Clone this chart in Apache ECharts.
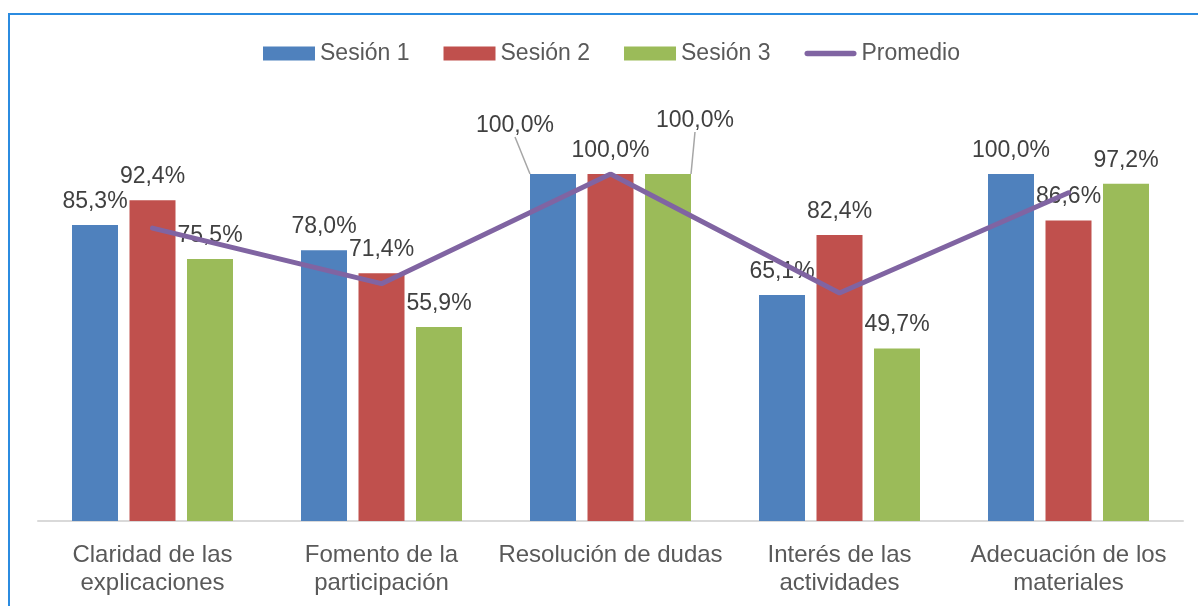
<!DOCTYPE html>
<html>
<head>
<meta charset="utf-8">
<script src="https://cdn.jsdelivr.net/npm/echarts@6/dist/echarts.min.js"></script>
<style>
  html, body { margin: 0; padding: 0; background: #fff; }
  #chart { width: 1198px; height: 606px; }
</style>
</head>
<body>
<div id="chart"></div>
<script>
// datos
const categorias = [
  "Claridad de las\nexplicaciones",
  "Fomento de la\nparticipación",
  "Resolución de dudas",
  "Interés de las\nactividades",
  "Adecuación de los\nmateriales"
];
const sesion1 = [85.3, 78.0, 100.0, 65.1, 100.0];
const sesion2 = [92.4, 71.4, 100.0, 82.4, 86.6];
const sesion3 = [75.5, 55.9, 100.0, 49.7, 97.2];
const promedio = [84.4, 68.4, 100.0, 65.7, 94.6];

const fuente = "Liberation Sans, Arial, sans-serif";
const fmt = (p) => p.value.toFixed(1).replace(".", ",") + "%";

const etiqueta = {
  show: true,
  position: "top",
  distance: 12,
  color: "#404040",
  fontSize: 23,
  fontFamily: fuente,
  formatter: fmt
};

// en "Resolución de dudas" las etiquetas se apartan con una línea guía
const conGuia = (arr) =>
  arr.map((v, i) =>
    i === 2
      ? { value: v, labelLine: { show: true, lineStyle: { color: "#a6a6a6", width: 1.5 } } }
      : v
  );
const mover = (dx, dy) => (params) =>
  params.dataIndex === 2 ? { dx: dx, dy: dy } : {};

// icono de línea con extremos redondeados para "Promedio"
const iconoLinea = "path://M3,0 L53,0 A3,3 0 0 1 53,6 L3,6 A3,3 0 0 1 3,0 Z";

const option = {
  animation: false,
  backgroundColor: "#fff",
  graphic: [
    {
      type: "polyline",
      shape: { points: [[9, 606], [9, 14], [1198, 14]] },
      style: { stroke: "#2b8be0", lineWidth: 2, fill: null }
    }
  ],
  legend: {
    left: 258,
    top: 37,
    itemWidth: 52,
    itemHeight: 14,
    itemGap: 34,
    textStyle: { color: "#595959", fontSize: 23, fontFamily: fuente },
    data: [
      { name: "Sesión 1", icon: "rect" },
      { name: "Sesión 2", icon: "rect" },
      { name: "Sesión 3", icon: "rect" },
      { name: "Promedio", icon: iconoLinea }
    ]
  },
  grid: { left: 38, right: 15, top: 174, bottom: 85 },
  xAxis: {
    type: "category",
    data: categorias,
    axisLine: { lineStyle: { color: "#d9d9d9", width: 2 } },
    axisTick: { show: false },
    axisLabel: {
      color: "#595959",
      fontSize: 24,
      fontFamily: fuente,
      lineHeight: 28,
      margin: 20,
      interval: 0
    }
  },
  yAxis: {
    type: "value",
    min: 0,
    max: 100,
    show: false,
    splitLine: { show: false }
  },
  series: [
    {
      name: "Sesión 1",
      type: "bar",
      data: conGuia(sesion1),
      barWidth: 46,
      barGap: "25%",
      itemStyle: { color: "#4f81bd" },
      label: etiqueta,
      labelLayout: mover(-38, -25)
    },
    {
      name: "Sesión 2",
      type: "bar",
      data: sesion2,
      barWidth: 46,
      barGap: "25%",
      itemStyle: { color: "#c0504d" },
      label: etiqueta
    },
    {
      name: "Sesión 3",
      type: "bar",
      data: conGuia(sesion3),
      barWidth: 46,
      barGap: "25%",
      itemStyle: { color: "#9bbb59" },
      label: etiqueta,
      labelLayout: mover(27, -30)
    },
    {
      name: "Promedio",
      type: "line",
      data: promedio,
      symbol: "none",
      z: 3,
      lineStyle: { color: "#8064a2", width: 5, cap: "round" },
      itemStyle: { color: "#8064a2" }
    }
  ]
};

const myChart = echarts.init(document.getElementById("chart"));
myChart.setOption(option);
window.addEventListener("resize", myChart.resize);
</script>
</body>
</html>
